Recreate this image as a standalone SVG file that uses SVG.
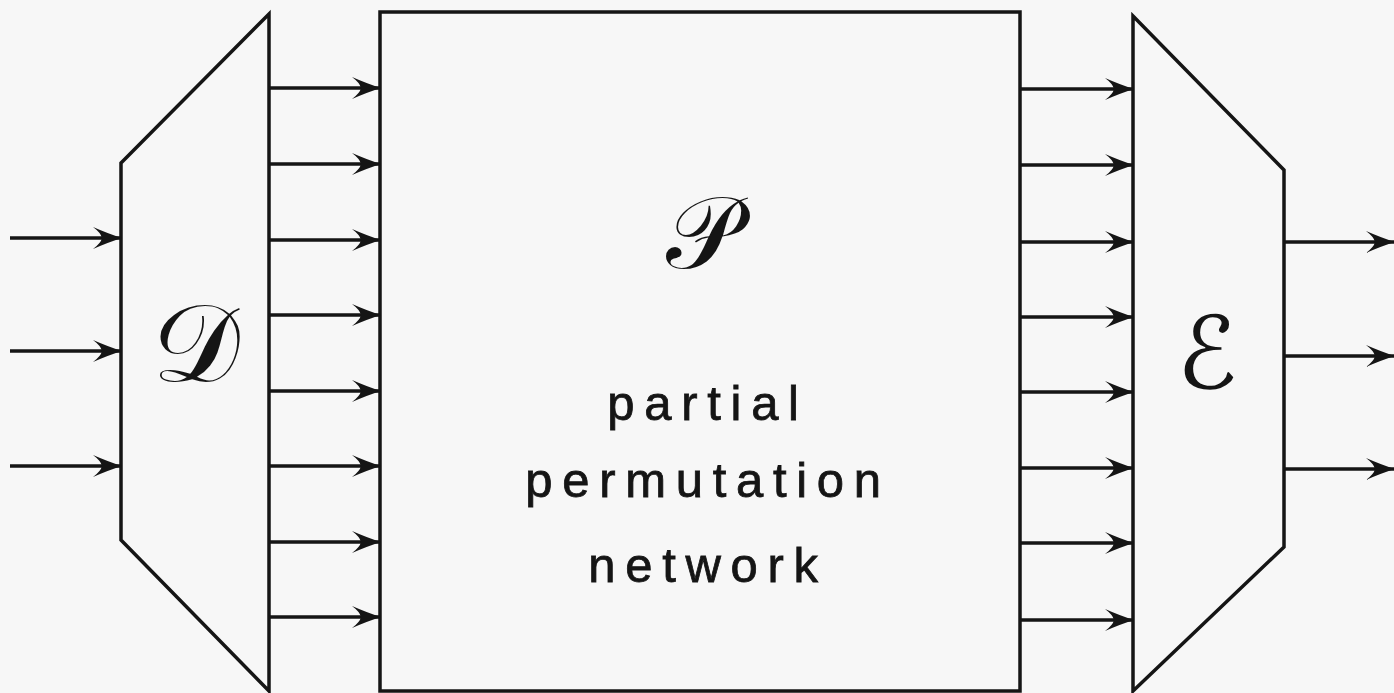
<svg xmlns="http://www.w3.org/2000/svg" width="1394" height="693" viewBox="0 0 1394 693">
<style>
.ln{stroke:#151515;stroke-width:3.5;fill:none;stroke-linejoin:miter}
.ar{stroke:#151515;stroke-width:3.5;fill:none;marker-end:url(#ah)}
.lbl{font-family:"Liberation Sans","DejaVu Sans",sans-serif;font-size:49px;fill:#151515;stroke:#151515;stroke-width:0.8;letter-spacing:9.7px;text-anchor:middle}
.scr{font-family:"DejaVu Serif","DejaVu Sans","Noto Sans",serif;font-size:110px;fill:#151515;text-anchor:middle}
</style>
<defs>
<marker id="ah" markerUnits="userSpaceOnUse" viewBox="-30 -12 32 24" refX="0" refY="0" markerWidth="32" markerHeight="24" orient="auto">
<path d="M1,0 Q-12,-4 -28,-11 Q-20,-5 -19,0 Q-20,5 -28,11 Q-12,4 1,0 Z" fill="#151515"/>
</marker>
</defs>
<rect width="1394" height="693" fill="#f7f7f7"/>
<g id="D">
<path class="ln" d="M269,14 L121,163 L121,540 L269,691 Z"/>
<text class="scr" x="196" y="381">𝒟</text>
</g>
<g id="P">
<rect class="ln" x="380" y="12" width="640" height="679"/>
<text class="scr" x="703" y="268" style="font-size:102px">𝒫</text>
<text class="lbl" x="708" y="420">partial</text>
<text class="lbl" x="708" y="497">permutation</text>
<text class="lbl" x="708" y="582">network</text>
</g>
<g id="E">
<path class="ln" d="M1133,16 L1284,170 L1284,547 L1133,691 Z"/>
<text class="scr" x="1207" y="388" style="font-size:100px">ℰ</text>
</g>
<g id="connectors">
<path class="ar" d="M10,238 H121"/>
<path class="ar" d="M10,351 H121"/>
<path class="ar" d="M10,466 H121"/>
<path class="ar" d="M269,88 H380"/>
<path class="ar" d="M269,164 H380"/>
<path class="ar" d="M269,240 H380"/>
<path class="ar" d="M269,315 H380"/>
<path class="ar" d="M269,391 H380"/>
<path class="ar" d="M269,466 H380"/>
<path class="ar" d="M269,542 H380"/>
<path class="ar" d="M269,617 H380"/>
<path class="ar" d="M1020,89 H1133"/>
<path class="ar" d="M1020,165 H1133"/>
<path class="ar" d="M1020,242 H1133"/>
<path class="ar" d="M1020,317 H1133"/>
<path class="ar" d="M1020,392 H1133"/>
<path class="ar" d="M1020,468 H1133"/>
<path class="ar" d="M1020,543 H1133"/>
<path class="ar" d="M1020,620 H1133"/>
<path class="ar" d="M1284,242 H1394"/>
<path class="ar" d="M1284,356 H1394"/>
<path class="ar" d="M1284,469 H1394"/>
</g>
</svg>
